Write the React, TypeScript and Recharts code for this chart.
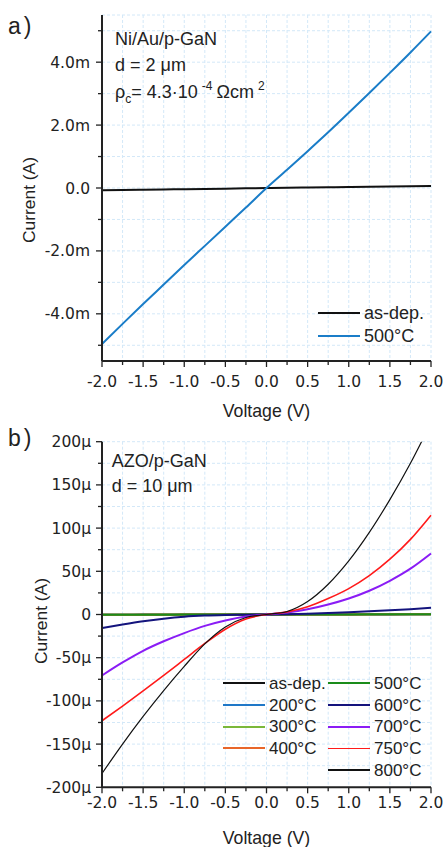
import React from "react"
import { LineChart, Line, XAxis, YAxis, CartesianGrid, Legend } from "recharts"

const VOLTAGE = [-2, -1.75, -1.5, -1.25, -1, -0.75, -0.5, -0.25, 0, 0.25, 0.5, 0.75, 1, 1.25, 1.5, 1.75, 2]

// panel a, current in mA
const A_ASDEP = [-0.07, -0.062, -0.054, -0.046, -0.038, -0.03, -0.021, -0.011, 0, 0.009, 0.017, 0.025, 0.033, 0.04, 0.047, 0.054, 0.06]
const A_500 = [-4.96, -4.32, -3.69, -3.07, -2.45, -1.84, -1.23, -0.62, 0, 0.58, 1.17, 1.77, 2.39, 3.02, 3.66, 4.31, 4.98]

// panel b, current in uA
const B_ASDEP = [-0.2, -0.17, -0.14, -0.11, -0.08, -0.06, -0.04, -0.02, 0, 0.02, 0.04, 0.06, 0.08, 0.11, 0.14, 0.17, 0.2]
const B_200 = [-0.3, -0.25, -0.2, -0.16, -0.12, -0.08, -0.05, -0.02, 0, 0.02, 0.05, 0.08, 0.12, 0.16, 0.2, 0.25, 0.3]
const B_300 = [-0.25, -0.2, -0.17, -0.13, -0.1, -0.07, -0.04, -0.02, 0, 0.02, 0.04, 0.07, 0.1, 0.13, 0.17, 0.2, 0.25]
const B_400 = [-0.35, -0.3, -0.24, -0.19, -0.14, -0.1, -0.06, -0.03, 0, 0.03, 0.06, 0.1, 0.14, 0.19, 0.24, 0.3, 0.35]
const B_500 = [-0.3, -0.26, -0.22, -0.18, -0.14, -0.1, -0.06, -0.03, 0, 0.03, 0.06, 0.1, 0.14, 0.18, 0.22, 0.26, 0.3]
const B_600 = [-15.8, -11.6, -7.8, -4.8, -2.6, -1.3, -0.6, -0.2, 0, 0.3, 0.9, 1.7, 2.6, 3.7, 4.9, 6.2, 7.7]
const B_700 = [-70.6, -55.5, -42, -31, -21.5, -13.2, -7, -2.4, 0, 2.3, 6, 11.5, 18.5, 27.5, 39, 53, 70.6]
const B_750 = [-123, -106, -88.5, -70.5, -52, -33.5, -17, -5.2, 0, 3, 9, 18.5, 30, 45, 64, 87, 115]
const B_800 = [-184, -150, -118, -88, -60, -34, -14.5, -3.5, 0, 3.5, 15, 35, 62, 95, 133, 175, 222]

const X_TICKS = VOLTAGE
const X_MAJOR = [-2, -1.5, -1, -0.5, 0, 0.5, 1, 1.5, 2]
const A_Y_TICKS = [-5, -4, -3, -2, -1, 0, 1, 2, 3, 4, 5]
const A_Y_MAJOR = [-4, -2, 0, 2, 4]
const B_Y_TICKS = [-200, -175, -150, -125, -100, -75, -50, -25, 0, 25, 50, 75, 100, 125, 150, 175, 200]
const B_Y_MAJOR = [-200, -150, -100, -50, 0, 50, 100, 150, 200]

const dataA = VOLTAGE.map((v, i) => ({ v, asdep: A_ASDEP[i], t500: A_500[i] }))
const dataB = VOLTAGE.map((v, i) => ({
  v,
  asdep: B_ASDEP[i], t200: B_200[i], t300: B_300[i], t400: B_400[i], t500: B_500[i],
  t600: B_600[i], t700: B_700[i], t750: B_750[i], t800: B_800[i],
}))

const seriesA = [
  { key: "asdep", name: "as-dep.", color: "#111111", width: 2 },
  { key: "t500", name: "500°C", color: "#1a7dc8", width: 2 },
]

const seriesB = [
  { key: "asdep", name: "as-dep.", color: "#111111", width: 2 },
  { key: "t200", name: "200°C", color: "#1f78c8", width: 2 },
  { key: "t300", name: "300°C", color: "#7ab83a", width: 2 },
  { key: "t400", name: "400°C", color: "#e8662a", width: 2 },
  { key: "t500", name: "500°C", color: "#1a8c1a", width: 2 },
  { key: "t600", name: "600°C", color: "#14147d", width: 2 },
  { key: "t700", name: "700°C", color: "#8a1cf5", width: 2 },
  { key: "t750", name: "750°C", color: "#ff1a1a", width: 1.6 },
  { key: "t800", name: "800°C", color: "#111111", width: 1.2 },
]

const INK = "#222"
const GRID = "#d3e8f8"
const TICK_FONT = "DejaVu Sans, Verdana, sans-serif"
const TEXT_FONT = "Liberation Sans, Arial, sans-serif"

const fmtA = (v: number) => (v === 0 ? "0.0" : `${v.toFixed(1)}m`)
const fmtB = (v: number) => (v === 0 ? "0" : `${v}μ`)

function YTick(props: any) {
  const { x, y, payload, majors, fmt, gap } = props
  const major = majors.includes(payload.value)
  return (
    <g>
      <line x1={x} x2={x - (major ? 6 : 4)} y1={y} y2={y} stroke={INK} strokeWidth={1.3} />
      {major && (
        <text x={x - gap} y={y + 5.5} textAnchor="end" fontFamily={TICK_FONT} fontSize={15.5} fill={INK}>
          {fmt(payload.value)}
        </text>
      )}
    </g>
  )
}

function XTick(props: any) {
  const { x, y, payload, drop } = props
  const major = X_MAJOR.includes(payload.value)
  return (
    <g>
      <line x1={x} x2={x} y1={y} y2={y + (major ? 6 : 4)} stroke={INK} strokeWidth={1.3} />
      {major && (
        <text x={x} y={y + drop} textAnchor="middle" fontFamily={TICK_FONT} fontSize={15.5} fill={INK}>
          {payload.value.toFixed(1)}
        </text>
      )}
    </g>
  )
}

const gridX = (p: any) => {
  const s = p?.xAxis?.scale
  return typeof s === "function" ? X_MAJOR.map((v) => s(v)) : []
}
const gridY = (majors: number[]) => (p: any) => {
  const s = p?.yAxis?.scale
  return typeof s === "function" ? majors.map((v) => s(v)) : []
}

function LegendRow({ s, size }: { s: { name: string; color: string; width: number }; size: number }) {
  return (
    <div style={{ display: "flex", alignItems: "center", height: size + 4.7 }}>
      <div style={{ width: 42, height: Math.max(s.width, 1.5), background: s.color, marginRight: 4 }} />
      <span style={{ fontFamily: TEXT_FONT, fontSize: size, color: INK, lineHeight: 1 }}>{s.name}</span>
    </div>
  )
}

function LegendA() {
  return (
    <div>
      {seriesA.map((s) => <LegendRow key={s.key} s={s} size={18} />)}
    </div>
  )
}

function LegendB() {
  return (
    <div style={{ display: "flex" }}>
      <div style={{ width: 105 }}>
        {seriesB.slice(0, 4).map((s) => <LegendRow key={s.key} s={s} size={17} />)}
      </div>
      <div>
        {seriesB.slice(4).map((s) => <LegendRow key={s.key} s={s} size={17} />)}
      </div>
    </div>
  )
}

export default function App() {
  const txt = { fontFamily: TEXT_FONT, fill: INK }
  return (
    <div style={{ position: "absolute", left: 0, top: 0, width: 445, height: 847, background: "#fff" }}>
      <div style={{ position: "absolute", left: 0, top: 0 }}>
        <LineChart width={445} height={420} data={dataA} margin={{ top: 15, right: 14, bottom: 0, left: 0 }}>
          <CartesianGrid stroke={GRID} strokeDasharray="3 2" />
          <CartesianGrid stroke={GRID} verticalCoordinatesGenerator={gridX} horizontalCoordinatesGenerator={gridY(A_Y_MAJOR)} />
          <XAxis dataKey="v" type="number" domain={[-2, 2]} ticks={X_TICKS} interval={0} height={59}
            tickSize={0} tickMargin={0} tickLine={false} axisLine={{ stroke: INK, strokeWidth: 2 }}
            tick={<XTick drop={26} />} />
          <XAxis xAxisId="top" dataKey="v" type="number" orientation="top" domain={[-2, 2]} height={0}
            tick={false} tickLine={false} axisLine={{ stroke: INK, strokeWidth: 2 }} />
          <YAxis type="number" domain={[-5.5, 5.5]} ticks={A_Y_TICKS} interval={0} width={102} allowDataOverflow
            tickSize={0} tickMargin={0} tickLine={false} axisLine={{ stroke: INK, strokeWidth: 2 }}
            tick={<YTick majors={A_Y_MAJOR} fmt={fmtA} gap={12} />} />
          <YAxis yAxisId="right" orientation="right" type="number" domain={[-5.5, 5.5]} width={0}
            tick={false} tickLine={false} axisLine={{ stroke: INK, strokeWidth: 2 }} />
          {seriesA.map((s) => (
            <Line key={s.key} dataKey={s.key} name={s.name} type="monotone" stroke={s.color}
              strokeWidth={s.width} dot={false} isAnimationActive={false} />
          ))}
          <Legend layout="horizontal" verticalAlign="middle" align="center"
            wrapperStyle={{ top: 302, left: 318, width: "auto", height: "auto" }} content={() => <LegendA />} />
        </LineChart>
      </div>
      <div style={{ position: "absolute", left: 0, top: 420 }}>
        <LineChart width={445} height={427} data={dataB} margin={{ top: 21.7, right: 14, bottom: 0, left: 0 }}>
          <CartesianGrid stroke={GRID} strokeDasharray="3 2" />
          <CartesianGrid stroke={GRID} verticalCoordinatesGenerator={gridX} horizontalCoordinatesGenerator={gridY(B_Y_MAJOR)} />
          <XAxis dataKey="v" type="number" domain={[-2, 2]} ticks={X_TICKS} interval={0} height={59.7}
            tickSize={0} tickMargin={0} tickLine={false} axisLine={{ stroke: INK, strokeWidth: 2 }}
            tick={<XTick drop={21} />} />
          <XAxis xAxisId="top" dataKey="v" type="number" orientation="top" domain={[-2, 2]} height={0}
            tick={false} tickLine={false} axisLine={{ stroke: INK, strokeWidth: 2 }} />
          <YAxis type="number" domain={[-200, 200]} ticks={B_Y_TICKS} interval={0} width={102} allowDataOverflow
            tickSize={0} tickMargin={0} tickLine={false} axisLine={{ stroke: INK, strokeWidth: 2 }}
            tick={<YTick majors={B_Y_MAJOR} fmt={fmtB} gap={11} />} />
          <YAxis yAxisId="right" orientation="right" type="number" domain={[-200, 200]} width={0}
            tick={false} tickLine={false} axisLine={{ stroke: INK, strokeWidth: 2 }} />
          {seriesB.map((s) => (
            <Line key={s.key} dataKey={s.key} name={s.name} type="monotone" stroke={s.color}
              strokeWidth={s.width} dot={false} isAnimationActive={false} />
          ))}
          <Legend layout="horizontal" verticalAlign="middle" align="center"
            wrapperStyle={{ top: 252.5, left: 223, width: "auto", height: "auto" }} content={() => <LegendB />} />
        </LineChart>
      </div>
      <svg width={445} height={847} style={{ position: "absolute", left: 0, top: 0, pointerEvents: "none" }}>
        <text x={8} y={34} fontSize={23} letterSpacing={3} {...txt}>a)</text>
        <text x={8} y={446} fontSize={23} letterSpacing={3} {...txt}>b)</text>

        <text x={115} y={44.5} fontSize={18} {...txt}>Ni/Au/p-GaN</text>
        <text x={115} y={71} fontSize={18} {...txt}>d = 2 μm</text>
        <text x={115} y={98} fontSize={18} {...txt}>
          ρ<tspan fontSize={12} dy={5}>c</tspan>
          <tspan dy={-5}>= 4.3·10</tspan>
          <tspan fontSize={12} dy={-8} dx={4}>-4</tspan>
          <tspan dy={8} dx={4}>Ωcm</tspan>
          <tspan fontSize={12} dy={-8} dx={4}>2</tspan>
        </text>

        <text x={111.7} y={467.3} fontSize={18} {...txt}>AZO/p-GaN</text>
        <text x={111.7} y={491.7} fontSize={18} {...txt}>d = 10 μm</text>

        <text x={266.5} y={416.7} fontSize={17.7} textAnchor="middle" {...txt}>Voltage (V)</text>
        <text x={266.5} y={843.5} fontSize={17.7} textAnchor="middle" {...txt}>Voltage (V)</text>

        <text transform="translate(35,200) rotate(-90)" fontSize={17.4} textAnchor="middle" {...txt}>Current (A)</text>
        <text transform="translate(47,621) rotate(-90)" fontSize={17.4} textAnchor="middle" {...txt}>Current (A)</text>
      </svg>
    </div>
  )
}
